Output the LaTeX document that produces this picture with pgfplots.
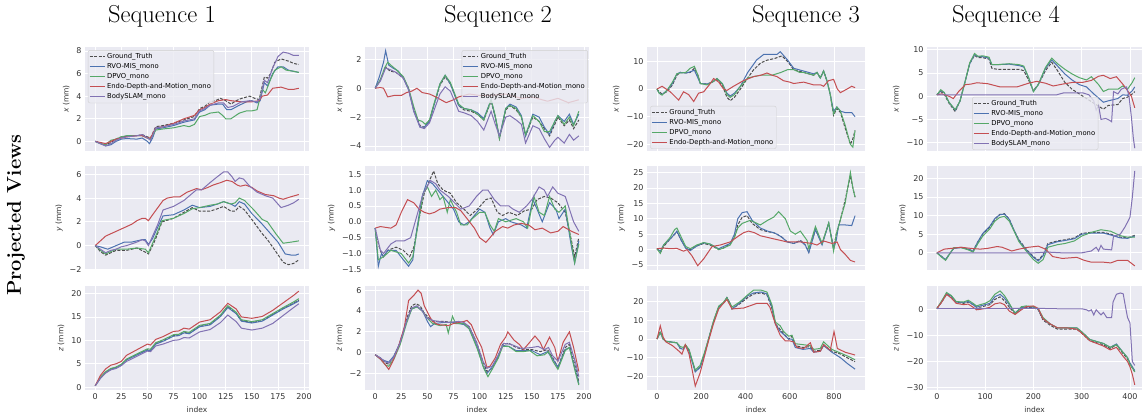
\documentclass[border=0pt]{standalone}
\usepackage{fontspec}
\usepackage{pgfplots}
\pgfplotsset{compat=1.18}
\newfontfamily\sns{DejaVu Sans}
\definecolor{seabg}{HTML}{EAEAF2}
\definecolor{seagt}{HTML}{4D4D4D}
\definecolor{seablue}{HTML}{4C72B0}
\definecolor{seagreen}{HTML}{55A868}
\definecolor{seared}{HTML}{C44E52}
\definecolor{seapurple}{HTML}{8172B3}
\definecolor{tk}{HTML}{333333}
\definecolor{lgedge}{HTML}{D0D0D0}

\pgfplotsset{
  panel/.style={
    scale only axis, anchor=north west,
    axis background/.style={fill=seabg},
    axis line style={draw=none},
    major tick length=0pt, tick style={draw=none},
    grid=major, grid style={white, line width=0.8pt},
    tick label style={font=\sns\fontsize{8}{9}\selectfont, text=tk},
    label style={font=\sns\fontsize{7.5}{9}\selectfont, text=tk},
    legend style={font=\sns\fontsize{6.8}{8}\selectfont, fill=seabg, fill opacity=0.8,
      text opacity=1, draw=lgedge, rounded corners=2pt, inner sep=1pt, row sep=-0.6pt},
    legend cell align=left,
    legend image code/.code={\draw[##1] (0pt,0pt) -- (15pt,0pt);},
    every axis plot/.append style={line width=1pt, no markers},
  },
  gt/.style={seagt, dash pattern=on 3pt off 1.5pt},
  rb/.style={seablue},
  rg/.style={seagreen},
  rr/.style={seared},
  rp/.style={seapurple},
  c12/.style={xmin=-9.75, xmax=204.75, xtick={0,25,...,200}, width=224pt, height=104pt},
  c3/.style={xmin=-45, xmax=940, xtick={0,200,400,600,800}, width=218pt, height=104pt},
  c4/.style={xmin=-20.5, xmax=425, xtick={0,100,200,300,400}, width=215pt, height=104pt},
  top/.style={xticklabels={}},
  bot/.style={xticklabels={0,25,50,75,100,125,150,175,200}, xlabel={index}},
}

\begin{document}
\begin{tikzpicture}
\useasboundingbox (0,0) rectangle (1143pt,415pt);
\node[font=\fontsize{24.5}{26}\selectfont] at (162pt,399pt) {Sequence 1};
\node[font=\fontsize{24.5}{26}\selectfont] at (498pt,399pt) {Sequence 2};
\node[font=\fontsize{24.5}{26}\selectfont] at (806pt,399pt) {Sequence 3};
\node[font=\fontsize{24.5}{26}\selectfont] at (1006pt,399pt) {Sequence 4};
\node[rotate=90, font=\fontsize{20}{22}\selectfont\bfseries] at (16pt,200pt) {Projected Views};

% ---------------- Sequence 1 ----------------
\begin{axis}[panel, c12, top, at={(85pt,368pt)}, ymin=-0.85, ymax=8.35,
  ytick={0,2,4,6,8}, yticklabels={0,2,4,6,8}, ylabel={{\itshape x} (mm)},
  legend style={at={(0.013,0.97)}, anchor=north west}]
\addplot[gt] coordinates {(0,0)(5,-0.1)(10,-0.3)(15,-0.1)(20,0.2)(25,0.4)(30,0.45)(35,0.5)(40,0.5)(45,0.6)(50,0.4)(53,0.3)(58,1.3)(65,1.4)(75,1.6)(85,1.9)(95,2.2)(100,2.9)(105,3.1)(110,3.5)(115,3.6)(120,3.8)(125,3.6)(130,3.3)(135,3.6)(140,3.8)(148,4.0)(153,3.8)(157,3.7)(162,5.7)(165,5.6)(168,6.0)(172,7.0)(178,7.3)(185,7.1)(190,6.9)(195,6.8)};
\addlegendentry{Ground\_Truth}
\addplot[rb] coordinates {(0,0)(5,-0.2)(10,-0.4)(15,-0.3)(20,0)(25,0.2)(30,0.25)(40,0.2)(45,0.3)(50,0.0)(52,-0.2)(55,0.3)(58,1.1)(65,1.2)(75,1.4)(85,1.7)(95,1.9)(100,2.6)(105,2.8)(110,3.2)(118,3.3)(122,3.3)(126,2.8)(130,2.8)(138,3.2)(145,3.5)(150,3.6)(155,3.4)(158,3.6)(162,5.2)(165,4.9)(170,6.0)(175,6.6)(180,6.6)(185,6.3)(190,6.2)(195,6.1)};
\addlegendentry{RVO-MIS\_mono}
\addplot[rg] coordinates {(0,0)(5,-0.2)(10,-0.3)(15,0.1)(20,0.2)(25,0.4)(30,0.5)(40,0.5)(45,0.5)(50,0.3)(53,0.2)(58,1.0)(65,1.1)(75,1.2)(85,1.4)(90,1.3)(95,1.5)(100,2.2)(105,2.3)(110,2.5)(118,2.6)(122,2.3)(125,2.0)(130,2.0)(138,2.5)(145,2.7)(150,2.7)(155,2.8)(160,4.6)(163,4.3)(168,5.5)(172,6.3)(178,6.6)(183,6.3)(190,6.2)(195,6.1)};
\addlegendentry{DPVO\_mono}
\addplot[rr] coordinates {(0,0)(5,-0.1)(10,-0.2)(15,0)(20,0.2)(25,0.3)(30,0.4)(40,0.5)(45,0.5)(50,0.3)(53,0.3)(58,1.2)(65,1.3)(75,1.6)(85,2.0)(95,2.3)(100,2.8)(105,3.0)(110,3.3)(118,3.6)(125,3.7)(130,3.6)(140,3.5)(150,3.5)(157,3.6)(160,4.0)(165,4.1)(170,4.7)(178,4.8)(185,4.6)(190,4.6)(195,4.7)};
\addlegendentry{Endo-Depth-and-Motion\_mono}
\addplot[rp] coordinates {(0,0)(5,-0.2)(10,-0.4)(15,-0.2)(20,0.1)(25,0.3)(30,0.4)(40,0.5)(45,0.6)(50,0.3)(53,0.1)(58,1.2)(65,1.3)(75,1.5)(85,1.8)(95,2.0)(100,2.7)(105,2.9)(110,3.2)(118,3.4)(123,3.4)(127,3.0)(132,3.1)(140,3.5)(148,3.6)(155,3.5)(158,3.8)(162,5.4)(165,5.2)(170,6.5)(175,7.5)(180,7.9)(185,7.8)(190,7.6)(195,7.6)};
\addlegendentry{BodySLAM\_mono}
\end{axis}

\begin{axis}[panel, c12, top, at={(85pt,249pt)}, ymin=-2.05, ymax=6.7,
  ytick={-2,0,2,4,6}, yticklabels={−2,0,2,4,6}, ylabel={{\itshape y} (mm)}]
\addplot[gt] coordinates {(0,0)(5,-0.5)(10,-0.8)(15,-0.6)(20,-0.4)(30,-0.4)(40,-0.2)(47,-0.5)(51,-0.7)(55,0)(58,0.6)(64,2.0)(75,2.3)(85,2.8)(93,3.2)(100,2.9)(110,2.9)(117,3.1)(123,3.3)(130,2.9)(134,2.9)(138,3.3)(143,3.0)(150,2.2)(160,1.0)(165,0.5)(173,-0.5)(180,-1.4)(185,-1.6)(190,-1.5)(195,-1.2)};
\addplot[rb] coordinates {(0,0)(5,-0.1)(12,-0.3)(20,0)(28,0.3)(35,0.3)(45,0.5)(48,0.5)(51,0.1)(55,0.6)(58,1.2)(65,2.5)(75,2.6)(85,3.0)(93,3.4)(100,3.2)(110,3.3)(117,3.5)(123,3.7)(130,3.5)(134,3.3)(138,3.7)(143,3.5)(150,2.7)(160,1.8)(165,1.3)(170,0.8)(175,0.3)(182,-0.7)(188,-0.8)(192,-0.8)(195,-0.7)};
\addplot[rg] coordinates {(0,0)(5,-0.4)(10,-0.7)(15,-0.5)(20,-0.3)(30,-0.3)(40,-0.2)(48,-0.3)(51,-0.6)(55,0.2)(58,0.8)(64,2.1)(75,2.3)(85,2.7)(93,3.1)(100,3.2)(110,3.4)(117,3.5)(123,3.7)(130,3.5)(134,3.6)(138,4.0)(143,3.8)(152,3.0)(160,2.2)(165,2.0)(173,1.0)(180,0.2)(188,0.3)(195,0.4)};
\addplot[rr] coordinates {(0,0)(5,0.4)(10,0.8)(15,1.0)(20,1.2)(25,1.4)(30,1.6)(35,1.8)(40,2.1)(45,2.3)(48,2.3)(51,2.1)(55,2.6)(60,3.2)(65,3.8)(69,4.0)(75,4.1)(81,4.1)(88,4.5)(97,4.8)(102,4.7)(108,4.9)(113,5.1)(120,5.3)(126,5.5)(131,5.4)(136,5.1)(139,5.0)(144,5.1)(150,4.9)(155,4.6)(163,4.3)(171,4.2)(176,4.0)(180,3.9)(187,4.1)(195,4.3)};
\addplot[rp] coordinates {(0,0)(5,-0.3)(10,-0.6)(15,-0.4)(20,-0.3)(25,-0.1)(30,0)(40,0.3)(45,0.5)(48,0.4)(51,0)(55,0.8)(60,1.8)(65,3.0)(75,3.3)(85,3.8)(97,4.7)(102,4.7)(110,5.3)(117,5.8)(123,6.2)(127,6.2)(131,5.8)(134,5.4)(138,5.7)(142,5.6)(148,5.0)(155,4.5)(163,4.2)(170,4.0)(175,3.5)(178,3.2)(185,3.4)(190,3.6)(195,3.9)};
\end{axis}

\begin{axis}[panel, c12, bot, at={(85pt,129pt)}, ymin=-0.6, ymax=21.6,
  ytick={0,5,10,15,20}, yticklabels={0,5,10,15,20}, ylabel={{\itshape z} (mm)}]
\addplot[gt] coordinates {(0,0.3)(5,2)(10,3.2)(15,3.9)(20,4.2)(25,4.8)(30,5.9)(40,7.0)(50,8.0)(53,7.9)(58,9.3)(65,9.9)(75,11.0)(80,11.1)(85,11.7)(90,11.5)(100,13.0)(110,13.4)(120,15.2)(127,17.2)(135,15.8)(140,14.2)(150,13.8)(160,14.2)(170,15.5)(180,16.8)(190,17.9)(195,18.6)};
\addplot[rb] coordinates {(0,0.3)(5,1.9)(10,3.1)(15,3.8)(20,4.1)(25,4.7)(30,5.8)(40,6.9)(50,7.9)(53,7.8)(58,9.2)(65,9.8)(75,10.9)(80,11.0)(85,11.6)(90,11.4)(100,12.9)(110,13.3)(120,15.1)(127,17.0)(135,15.7)(140,14.1)(150,13.7)(160,14.1)(170,15.4)(180,16.7)(190,17.8)(195,18.4)};
\addplot[rg] coordinates {(0,0.3)(5,2.1)(10,3.3)(15,4.0)(20,4.3)(25,4.9)(30,6.0)(40,7.1)(50,8.2)(53,8.1)(58,9.5)(65,10.1)(75,11.2)(80,11.3)(85,11.9)(90,11.7)(100,13.2)(110,13.6)(120,15.4)(127,17.4)(135,16.0)(140,14.4)(150,14.0)(160,14.4)(170,15.7)(180,17.0)(190,18.2)(195,18.9)};
\addplot[rr] coordinates {(0,0.3)(5,2.5)(10,3.9)(15,4.7)(20,5.0)(25,5.5)(30,6.8)(40,8.0)(50,9.2)(53,9.0)(58,10.2)(65,10.8)(75,11.9)(80,12.0)(85,12.6)(90,12.4)(100,13.9)(110,14.4)(120,16.1)(127,17.9)(135,16.7)(140,15.0)(150,14.7)(160,15.1)(170,16.4)(180,18.0)(190,19.6)(195,20.5)};
\addplot[rp] coordinates {(0,0.3)(5,1.9)(10,3.0)(15,3.7)(20,4.0)(25,4.6)(30,5.5)(40,6.6)(50,7.7)(53,7.6)(58,8.8)(65,9.2)(75,10.0)(80,10.1)(85,10.6)(90,10.5)(100,11.8)(110,12.3)(120,13.8)(127,15.4)(135,14.0)(140,12.6)(150,12.2)(160,12.6)(170,13.6)(180,15.3)(190,17.0)(195,17.8)};
\end{axis}

% ---------------- Sequence 2 ----------------
\begin{axis}[panel, c12, top, at={(365pt,368pt)}, ymin=-4.35, ymax=2.86,
  ytick={-4,-2,0,2}, yticklabels={−4,−2,0,2}, ylabel={{\itshape x} (mm)},
  legend style={at={(0.995,0.97)}, anchor=north east}]
\addplot[gt] coordinates {(0,0)(5,0.6)(10,1.5)(14,1.2)(20,1.1)(27,0.7)(32,0)(37,-1.5)(43,-2.6)(47,-2.7)(52,-2.2)(57,-1.0)(62,0.2)(67,0.8)(72,0.3)(80,-1.2)(85,-1.5)(92,-1.6)(98,-1.8)(104,-2.2)(111,-0.9)(115,-2.0)(119,-3.5)(125,-1.5)(129,-1.2)(135,-1.5)(140,-2.0)(144,-3.3)(151,-2.0)(157,-2.3)(162,-2.8)(167,-3.3)(172,-2.5)(175,-2.0)(181,-2.6)(186,-2.2)(190,-2.8)(195,-2.2)};
\addlegendentry{Ground\_Truth}
\addplot[rb] coordinates {(0,0)(4,0.8)(8,1.8)(10,2.6)(13,1.6)(17,1.4)(22,1.2)(27,0.7)(32,-0.1)(37,-1.6)(43,-2.7)(47,-2.7)(52,-2.3)(57,-1.0)(62,0.3)(67,0.9)(72,0.3)(80,-1.2)(85,-1.4)(92,-1.5)(98,-1.7)(104,-2.1)(111,-0.8)(115,-2.0)(119,-3.4)(125,-1.4)(129,-1.1)(135,-1.3)(140,-1.9)(144,-3.3)(151,-1.8)(157,-2.0)(162,-2.7)(167,-3.2)(172,-2.3)(175,-1.9)(181,-2.3)(186,-1.8)(190,-2.5)(195,-1.8)};
\addlegendentry{RVO-MIS\_mono}
\addplot[rg] coordinates {(0,0)(5,0.6)(9,1.4)(12,1.8)(15,1.6)(20,1.3)(27,0.8)(32,0)(37,-1.3)(41,-2.2)(45,-2.3)(48,-2.5)(52,-2.2)(57,-0.9)(62,0.3)(67,0.9)(72,0.4)(80,-1.1)(85,-1.4)(92,-1.5)(98,-1.8)(104,-2.2)(111,-0.8)(115,-1.9)(119,-3.5)(125,-1.4)(129,-1.2)(135,-1.4)(140,-2.0)(144,-3.2)(151,-1.9)(157,-2.3)(162,-3.0)(167,-3.0)(172,-2.3)(175,-1.9)(181,-2.5)(186,-2.0)(190,-2.6)(195,-1.6)};
\addlegendentry{DPVO\_mono}
\addplot[rr] coordinates {(0,0)(5,0.05)(8,0)(12,-0.6)(18,-0.5)(25,-0.5)(30,-0.3)(35,-0.2)(40,0)(45,-0.3)(52,-0.4)(58,-0.6)(63,-0.8)(68,-1.0)(75,-0.8)(80,-0.6)(90,-0.4)(100,-0.5)(110,-0.5)(125,-0.4)(140,-0.7)(150,-0.6)(165,-0.9)(175,-0.7)(185,-1.0)(195,-0.8)};
\addlegendentry{Endo-Depth-and-Motion\_mono}
\addplot[rp] coordinates {(0,0)(5,0.5)(10,1.4)(14,1.3)(20,1.1)(27,0.7)(32,-0.1)(37,-1.6)(43,-2.7)(47,-2.8)(52,-2.4)(57,-1.4)(62,-0.4)(67,0.1)(72,-0.2)(80,-1.6)(85,-1.7)(92,-1.9)(98,-2.3)(104,-2.9)(111,-1.6)(115,-2.5)(119,-3.3)(125,-2.0)(129,-1.9)(135,-2.2)(140,-2.5)(144,-3.8)(151,-2.6)(157,-2.8)(162,-3.5)(167,-4.1)(172,-3.6)(175,-3.4)(181,-3.8)(186,-3.2)(190,-3.6)(195,-3.3)};
\addlegendentry{BodySLAM\_mono}
\end{axis}

\begin{axis}[panel, c12, top, at={(365pt,249pt)}, ymin=-1.52, ymax=1.76,
  ytick={-1.5,-1,-0.5,0,0.5,1,1.5}, yticklabels={−1.5,−1.0,−0.5,0.0,0.5,1.0,1.5}, ylabel={{\itshape y} (mm)}]
\addplot[gt] coordinates {(0,-0.2)(3,-0.7)(6,-1.0)(8,-1.1)(12,-0.9)(20,-0.8)(27,-0.9)(33,-1.1)(37,-0.8)(42,0.1)(47,0.9)(52,1.3)(56,1.6)(60,1.2)(65,1.0)(72,0.9)(78,0.6)(85,0.4)(91,0.2)(98,0.4)(106,0.7)(111,0.75)(117,0.3)(122,0.2)(128,0.3)(136,0.2)(143,0.35)(150,0.4)(155,0.7)(162,0.8)(168,0.75)(175,0.6)(182,0.3)(188,-0.6)(191,-1.1)(195,-0.5)};
\addplot[rb] coordinates {(0,-0.2)(3,-1.4)(6,-1.0)(8,-1.1)(12,-0.9)(20,-0.9)(27,-1.2)(32,-1.4)(36,-1.2)(40,-0.2)(45,0.8)(50,1.3)(55,1.2)(60,1.0)(65,0.8)(70,0.6)(75,0.4)(80,0)(85,-0.1)(90,0)(95,0.2)(100,0.4)(105,0.3)(110,-0.2)(113,-0.4)(118,0)(125,0.1)(130,0)(140,-0.1)(145,-0.2)(151,0.7)(155,0.4)(160,0)(167,0.6)(173,0.4)(176,0.1)(182,0.4)(188,-0.8)(191,-1.3)(195,-0.6)};
\addplot[rg] coordinates {(0,-0.2)(3,-1.2)(8,-1.1)(15,-0.9)(25,-1.0)(32,-1.3)(36,-1.1)(41,-0.1)(46,0.9)(50,1.1)(54,0.8)(58,1.0)(62,0.7)(65,0.8)(69,0.3)(72,0.7)(78,0.3)(82,-0.1)(88,-0.1)(93,0.1)(100,0.3)(105,0.3)(110,-0.1)(114,-0.3)(118,0.1)(125,0.0)(135,0.1)(142,0.0)(146,-0.2)(152,0.8)(157,0.3)(162,0.2)(167,0.8)(172,0.4)(176,0.3)(182,0.5)(188,-0.7)(191,-1.3)(195,-0.7)};
\addplot[rr] coordinates {(0,-0.2)(5,-0.15)(15,-0.2)(20,-0.1)(25,0.3)(31,0.7)(37,0.6)(42,0.4)(47,0.3)(52,0.25)(57,0.3)(62,0.4)(70,0.45)(77,0.45)(82,0.35)(88,0.1)(95,-0.2)(100,-0.5)(106,-0.65)(110,-0.5)(115,-0.3)(122,-0.15)(127,-0.2)(133,-0.1)(140,-0.05)(147,-0.1)(153,-0.25)(160,-0.2)(168,-0.35)(175,-0.3)(180,-0.15)(188,-0.3)(195,-0.4)};
\addplot[rp] coordinates {(0,-0.2)(5,-0.9)(8,-1.0)(15,-0.7)(20,-0.6)(28,-0.6)(34,-0.5)(40,0.2)(46,0.9)(53,1.3)(58,1.2)(62,1.0)(70,0.8)(76,0.6)(82,0.4)(90,0.5)(97,0.8)(103,1.0)(108,1.0)(114,0.7)(120,0.5)(128,0.5)(132,0.4)(138,0.3)(145,0.5)(150,0.7)(157,1.1)(162,1.0)(165,0.8)(170,1.1)(175,0.9)(182,0.8)(190,0.0)(195,-0.3)};
\end{axis}

\begin{axis}[panel, c12, bot, at={(365pt,129pt)}, ymin=-3.58, ymax=6.4,
  ytick={-2,0,2,4,6}, yticklabels={−2,0,2,4,6}, ylabel={{\itshape z} (mm)}]
\addplot[gt] coordinates {(0,-0.2)(5,-0.5)(10,-1.0)(13,-1.1)(17,-0.5)(22,0.5)(27,2.0)(31,3.5)(35,4.5)(39,4.7)(43,4.5)(47,3.8)(52,3.3)(56,3.0)(65,3.0)(75,2.9)(85,2.8)(90,2.5)(97,1.0)(103,-0.8)(107,-1.8)(112,-1.5)(117,-0.5)(122,0.8)(128,0.9)(135,0.5)(142,0.3)(150,0.3)(158,0.1)(165,0.3)(170,-0.5)(175,-1.4)(182,0.5)(186,0.8)(192,-1.5)(195,-2.8)};
\addplot[rb] coordinates {(0,-0.2)(5,-0.6)(10,-0.8)(13,-0.9)(18,-0.3)(24,1.0)(30,3.0)(35,4.2)(40,4.4)(45,4.1)(50,3.0)(53,2.5)(57,2.8)(65,2.9)(75,2.9)(85,2.7)(90,2.3)(98,0.5)(103,-1.2)(107,-2.0)(112,-1.4)(118,-0.3)(122,0.7)(128,0.6)(135,0.2)(142,0.2)(150,0.2)(158,-0.2)(165,0.1)(170,-0.6)(175,-1.4)(182,0.3)(186,0.5)(192,-1.8)(195,-3.0)};
\addplot[rg] coordinates {(0,-0.2)(5,-0.6)(10,-1.2)(13,-1.3)(18,-0.6)(24,0.8)(30,2.8)(35,4.2)(40,4.4)(45,4.0)(50,3.3)(55,2.8)(62,2.6)(68,2.7)(70,1.9)(74,3.5)(77,2.8)(85,2.8)(90,2.3)(98,0.3)(104,-1.5)(108,-2.3)(112,-1.6)(118,-0.5)(122,0.6)(128,0.6)(135,0.1)(142,0.1)(148,0.2)(155,-0.3)(162,-0.2)(166,0.1)(170,-0.8)(175,-1.6)(182,0.2)(186,0.5)(192,-2.0)(195,-3.1)};
\addplot[rr] coordinates {(0,-0.2)(5,-0.6)(10,-1.2)(13,-1.6)(17,-0.8)(22,0.5)(28,2.5)(32,5.0)(37,5.5)(41,6.0)(44,5.7)(47,4.5)(52,3.5)(55,3.0)(60,2.7)(70,2.6)(75,2.8)(85,3.0)(88,3.1)(92,2.7)(97,1.5)(102,0.5)(107,-1.4)(110,-1.3)(115,-0.5)(120,0.8)(125,1.5)(127,2.0)(133,1.2)(138,0.8)(142,0.3)(148,1.0)(153,1.6)(158,1.0)(161,0.3)(167,1.5)(172,0.5)(175,-0.8)(180,1.0)(186,2.0)(190,0.5)(195,-1.8)};
\addplot[rp] coordinates {(0,-0.2)(5,-0.5)(10,-0.9)(13,-1.0)(18,-0.4)(24,1.0)(30,3.0)(35,4.3)(40,4.5)(45,4.0)(50,3.3)(55,3.1)(60,3.0)(70,2.9)(80,3.0)(85,2.9)(90,2.5)(97,1.0)(103,-0.8)(107,-1.5)(112,-1.3)(118,-0.2)(123,0.9)(130,0.8)(140,0.4)(150,0.5)(156,0.6)(162,0.3)(166,0.5)(170,-0.3)(175,-0.8)(182,0.8)(186,1.0)(192,-1.0)(195,-2.3)};
\end{axis}

% ---------------- Sequence 3 ----------------
\begin{axis}[panel, c3, top, at={(647pt,368pt)}, ymin=-22.4, ymax=15.2,
  ytick={-20,-10,0,10}, yticklabels={−20,−10,0,10}, ylabel={{\itshape x} (mm)},
  legend style={at={(0.015,0.02)}, anchor=south west}]
\addplot[gt] coordinates {(0,0)(10,-1)(23,-1.8)(45,-1)(70,1.5)(90,5)(105,6)(130,5.8)(150,6)(169,7.5)(185,5)(196,2)(226,1.8)(250,2.5)(271,3.5)(295,1.5)(316,-3)(331,-4.2)(350,-3)(377,0)(410,4)(437,7)(470,9.5)(500,10.5)(530,11)(565,12)(590,10)(618,7)(663,6)(708,5)(723,6)(738,4)(753,6.5)(768,3)(783,-2)(798,-9.5)(813,-7)(829,-8.5)(850,-14)(874,-20)(885,-18)(895,-15)};
\addlegendentry{Ground\_Truth}
\addplot[rb] coordinates {(0,0)(10,-1.5)(23,-2)(45,-0.5)(70,2)(90,5.5)(105,6)(130,5.8)(150,6.2)(169,6.8)(185,4)(196,2)(226,1.8)(250,2.5)(271,3.8)(295,2)(316,-1.5)(331,-2.5)(350,-1.5)(377,1)(410,6)(437,9)(450,10.5)(482,12.5)(542,12.5)(557,13.5)(590,10.5)(618,7.5)(663,6.5)(708,5.5)(723,6)(738,4)(753,6.5)(768,3)(783,-2)(798,-8)(813,-6.5)(829,-8)(850,-8.5)(880,-8.5)(895,-10)};
\addlegendentry{RVO-MIS\_mono}
\addplot[rg] coordinates {(0,0)(10,-1.5)(23,-2.2)(45,-0.5)(70,2.5)(90,5.5)(105,5.8)(130,6)(150,7.5)(169,8.2)(185,5)(196,2)(226,1.5)(250,2.5)(271,3.8)(295,2)(316,-2)(331,-3)(350,-2)(377,1)(410,4)(437,4.5)(470,5)(520,5)(560,6)(590,7)(618,7)(645,6)(663,6)(708,5)(723,6)(738,4)(753,6.5)(768,3)(783,-2)(798,-9)(813,-6.5)(829,-8)(850,-13)(874,-20)(885,-21)(895,-15)};
\addlegendentry{DPVO\_mono}
\addplot[rr] coordinates {(0,0)(23,1)(60,-1)(98,-4)(120,-1)(143,-2)(166,-4.5)(188,-1.5)(211,-1)(241,2)(256,3.8)(279,2.5)(301,0)(316,-0.5)(346,1)(390,3)(437,4.5)(470,5)(497,5.8)(520,5)(542,4.5)(572,3)(600,2.5)(618,2)(663,2.5)(708,1.5)(740,1.5)(753,1)(775,3)(798,3.5)(815,0)(829,-1.3)(859,0)(880,1)(895,0.5)};
\addlegendentry{Endo-Depth-and-Motion\_mono}
\end{axis}

\begin{axis}[panel, c3, top, at={(647pt,249pt)}, ymin=-6.6, ymax=27.1,
  ytick={-5,0,5,10,15,20,25}, yticklabels={−5,0,5,10,15,20,25}, ylabel={{\itshape y} (mm)}]
\addplot[gt] coordinates {(0,0.3)(15,-1)(30,1)(60,3.5)(80,5)(90,5.8)(110,3)(130,0.5)(151,0)(180,1.2)(211,2)(240,1.5)(260,0.8)(279,0)(300,0.5)(331,2)(350,4)(365,8)(385,10.5)(407,11)(430,8.5)(467,6.5)(500,5.8)(527,5.5)(542,5)(565,4)(588,2.5)(618,2)(648,3)(670,1.5)(686,-0.8)(716,6.5)(746,2)(776,8.5)(798,0.5)(810,5)(830,10)(850,16)(874,24)(885,20)(895,17)};
\addplot[rb] coordinates {(0,0.3)(15,-0.5)(30,1.5)(60,3.5)(80,5)(90,6)(110,3)(130,0.5)(151,-0.3)(180,1.2)(211,2.2)(240,1.8)(260,1)(279,0.3)(300,1)(331,2)(350,5)(365,10)(385,12)(407,12.3)(430,9.5)(467,7)(500,6)(527,5.5)(542,5)(565,4)(588,2.5)(618,2)(648,2.8)(670,1.5)(686,-1)(716,6.5)(746,1.5)(776,8.5)(798,0.3)(810,3)(821,8)(850,8)(880,7.8)(895,11)};
\addplot[rg] coordinates {(0,0.3)(15,-1.2)(30,1.5)(60,4)(80,6.5)(90,7)(110,4)(130,1)(151,0.3)(180,1.5)(211,2.3)(240,1.8)(260,1)(279,0)(300,0.5)(331,1.5)(350,4)(365,7)(385,8.5)(422,9.5)(467,8)(500,9.5)(527,10.5)(550,12.3)(580,10)(603,6)(625,5)(648,6)(678,3)(686,0.3)(716,7.5)(746,2)(776,8.7)(798,-0.5)(810,5)(830,10)(850,15)(874,25)(885,20)(895,17)};
\addplot[rr] coordinates {(0,0.3)(30,0.5)(60,0.3)(90,0.4)(120,-0.5)(136,0)(158,-2)(184,-5.2)(211,-3)(249,1)(286,1.5)(331,2.5)(370,4.5)(392,5.5)(414,6)(440,5.5)(467,4.5)(527,3.5)(588,2.5)(648,2.5)(700,2)(723,1.5)(753,2.8)(791,2)(814,2.5)(829,0)(850,-1.5)(874,-3.5)(895,-4)};
\end{axis}

\begin{axis}[panel, c3, at={(647pt,129pt)}, ymin=-27.1, ymax=28.2,
  xticklabels={0,200,400,600,800}, xlabel={index},
  ytick={-20,-10,0,10,20}, yticklabels={−20,−10,0,10,20}, ylabel={{\itshape z} (mm)}]
\addplot[gt] coordinates {(0,0)(15,4)(28,0)(40,-1.2)(90,-2)(105,-5)(120,-5)(128,-3)(145,-6)(160,-12)(173,-17)(195,-15)(215,-8)(233,0)(255,9)(279,17)(300,19)(316,22)(330,19)(339,16)(377,19)(410,22)(437,24)(470,24.5)(497,23.5)(520,16)(535,8)(557,5)(572,3)(595,0)(610,1.5)(625,-3.5)(660,-4.5)(693,-4)(708,-6.5)(738,-6)(753,-3)(790,-6.5)(830,-8)(860,-10)(895,-12)};
\addplot[rb] coordinates {(0,0)(15,3.5)(28,0)(40,-1.2)(90,-2)(105,-5)(120,-5.5)(128,-3.5)(145,-6.5)(160,-12.5)(173,-17.5)(195,-15)(215,-8)(233,0)(255,9)(279,17)(300,19)(316,22)(330,19)(339,16)(377,19.5)(410,23)(437,24.5)(470,25)(497,24)(520,17)(535,8)(557,4)(572,2.5)(595,0)(610,0)(625,-4.5)(660,-5.5)(693,-5)(708,-7)(738,-6.5)(753,-3.5)(790,-7)(830,-10)(860,-13)(895,-16)};
\addplot[rg] coordinates {(0,0)(15,3.5)(28,0)(40,-1.2)(90,-2)(105,-4)(120,-4.5)(128,-3)(145,-5.5)(160,-11.5)(173,-16.5)(195,-14)(215,-7)(233,0)(255,9.5)(279,17.5)(300,19.5)(316,22)(330,19)(339,17)(377,20)(410,23.5)(437,26)(470,26)(497,25)(520,18)(535,9)(557,7)(572,4)(595,1.5)(610,2)(625,-2.5)(660,-3)(693,-3.5)(708,-5.5)(738,-5)(753,-1.5)(790,-5.5)(830,-7.5)(860,-9)(895,-11)};
\addplot[rr] coordinates {(0,0)(15,7)(28,1)(40,-1.5)(70,-3.5)(100,-6.5)(113,-8)(128,-3)(145,-8)(160,-17)(173,-25)(195,-18)(215,-9)(233,-1)(255,8)(279,16)(300,19)(316,21)(339,16)(392,16.5)(452,19)(497,19)(510,17)(535,8)(557,2)(580,-1)(600,-1)(618,-1.5)(633,-4.5)(663,-5)(693,-2)(708,-7)(738,-6.5)(753,-3)(783,-6)(800,4)(815,-5)(850,-7)(895,-8.5)};
\end{axis}

% ---------------- Sequence 4 ----------------
\begin{axis}[panel, c4, top, at={(927pt,368pt)}, ymin=-11.8, ymax=10.6,
  ytick={-10,-5,0,5,10}, yticklabels={−10,−5,0,5,10}, ylabel={{\itshape x} (mm)},
  legend style={at={(0.21,0.01)}, anchor=south west}]
\addplot[gt] coordinates {(0,0.3)(8,1.0)(15,0.5)(25,-1.5)(38,-3.3)(48,-1)(58,3)(68,7)(78,8.8)(85,8.3)(95,8.3)(108,8.0)(114,6.0)(125,5.8)(150,5.8)(170,5.8)(180,5.5)(190,3.5)(200,1.2)(210,2.5)(225,5.5)(238,7.3)(250,5.5)(265,3.0)(280,1.5)(295,0.5)(310,-0.5)(325,-1.5)(345,-2.8)(355,-2.0)(375,-1.8)(385,-0.5)(395,-0.2)(405,0.5)(410,1.0)};
\addlegendentry{Ground\_Truth}
\addplot[rb] coordinates {(0,0.3)(8,1.2)(15,0.8)(25,-1.3)(38,-3.0)(48,-1)(58,3)(68,7)(78,9.0)(85,8.5)(95,8.5)(108,8.2)(114,6.8)(125,6.8)(150,6.9)(170,6.6)(180,6.3)(190,4.0)(200,1.0)(210,2.5)(225,6.0)(238,7.8)(250,6.5)(265,4.8)(280,3.5)(295,2.5)(310,2.0)(325,0.5)(345,-1.3)(355,-1.0)(375,-0.5)(385,0.3)(395,0.2)(405,1.2)(410,2.0)};
\addlegendentry{RVO-MIS\_mono}
\addplot[rg] coordinates {(0,0.3)(8,1.4)(15,0.8)(25,-1.3)(38,-2.9)(48,-1)(58,3)(68,7.2)(78,9.2)(85,8.6)(95,8.7)(108,8.4)(114,6.8)(125,6.8)(150,7.0)(170,6.8)(180,6.5)(190,4.0)(200,1.0)(210,2.5)(225,6.2)(238,8.2)(250,7.0)(265,5.8)(280,4.8)(295,4.0)(310,3.5)(320,4.2)(335,2.5)(345,1.0)(355,1.5)(375,1.5)(385,2.2)(395,1.5)(405,3.0)(410,4.0)};
\addlegendentry{DPVO\_mono}
\addplot[rr] coordinates {(0,0.3)(10,0.5)(25,0)(34,-0.5)(45,1)(59,2.5)(70,2.6)(83,2.9)(105,2.7)(131,2.0)(166,2.0)(190,2.8)(207,3.2)(225,2.8)(241,2.2)(260,2.6)(283,3.0)(303,3.0)(320,3.4)(335,4.3)(345,4.5)(359,3.8)(372,4.2)(386,2.5)(393,1.5)(403,0)(410,-2.5)};
\addlegendentry{Endo-Depth-and-Motion\_mono}
\addplot[rp] coordinates {(0,0.3)(50,0.3)(100,0.3)(150,0.3)(200,0.3)(248,0.3)(262,0.7)(303,0.7)(315,0.3)(325,-1)(330,-3)(335,-2)(340,-5)(350,-4.8)(358,-5.2)(362,-5.5)(366,1)(375,0.5)(382,1.5)(393,2.0)(398,0)(403,-4.5)(407,-9)(410,-11.2)};
\addlegendentry{BodySLAM\_mono}
\end{axis}

\begin{axis}[panel, c4, top, at={(927pt,249pt)}, ymin=-4.6, ymax=23.3,
  ytick={0,5,10,15,20}, yticklabels={0,5,10,15,20}, ylabel={{\itshape y} (mm)}]
\addplot[gt] coordinates {(0,0)(10,-1)(18,-1.9)(25,-0.5)(35,1.3)(50,1.5)(65,1.0)(75,0.5)(85,3)(95,5)(110,7)(120,9)(130,10.3)(140,10.5)(150,9)(160,6)(170,3.5)(185,1)(200,-1)(210,-2)(220,-0.5)(230,2.5)(250,3.2)(265,3.5)(285,4)(300,5.2)(320,5.5)(345,5.5)(360,5)(380,4.2)(395,4.0)(410,4.7)};
\addplot[rb] coordinates {(0,0)(10,-1)(18,-1.8)(25,-0.5)(35,1.2)(50,1.4)(65,1.0)(75,0.4)(85,3)(95,5.2)(110,7.2)(120,9.2)(130,10.2)(140,10.4)(150,9)(160,6)(170,3.3)(185,0.8)(200,-1.2)(210,-2.2)(220,-0.8)(230,2.2)(250,3.0)(265,3.3)(285,3.8)(300,5.0)(320,5.3)(345,5.3)(360,4.8)(380,4.0)(395,3.9)(410,4.5)};
\addplot[rg] coordinates {(0,0)(10,-1.2)(18,-2)(25,-0.6)(35,1.4)(50,1.4)(65,0.8)(75,0.2)(85,2.5)(95,4.5)(110,6.5)(120,8.5)(130,9.5)(140,9.8)(150,8.5)(160,5.8)(170,3.0)(185,0.5)(200,-1.8)(210,-2.8)(220,-1.8)(230,1.5)(250,2.2)(265,2.5)(285,3.2)(300,4.5)(320,5.5)(340,6.2)(360,5.8)(380,4.6)(395,4.2)(410,4.2)};
\addplot[rr] coordinates {(0,0)(15,1)(30,1.2)(50,1.5)(70,1.2)(90,1.0)(105,1.2)(125,1.7)(135,1.5)(155,0.5)(170,1.0)(190,1.5)(210,1.8)(225,1.0)(240,-1)(260,-1.5)(290,-1.2)(305,-2)(320,-2.5)(345,-2.5)(360,-2.7)(375,-2.0)(395,-2.0)(410,-3.5)};
\addplot[rp] coordinates {(0,0)(100,0)(150,0)(200,0)(230,0.2)(260,0)(300,0)(320,0.5)(330,1.5)(335,0.5)(340,2)(345,1)(362,0.8)(366,4.5)(380,5)(390,7)(400,9.5)(405,15)(410,22)};
\end{axis}

\begin{axis}[panel, c4, at={(927pt,129pt)}, ymin=-31, ymax=9.2,
  xticklabels={0,100,200,300,400}, xlabel={index},
  ytick={-30,-20,-10,0}, yticklabels={−30,−20,−10,0}, ylabel={{\itshape z} (mm)}]
\addplot[gt] coordinates {(0,0.5)(10,3)(20,6)(30,5)(40,3)(55,2.5)(65,3)(75,2)(82,1)(90,1)(100,1.5)(110,2)(120,4)(131,5)(140,3.5)(150,1)(162,-1.5)(175,0.5)(185,1)(200,0.8)(210,0)(220,-4)(235,-6)(250,-7.5)(270,-7.5)(290,-7.5)(300,-9)(317,-12)(345,-13.5)(359,-15)(372,-13.5)(386,-17)(395,-19)(400,-21)(410,-24)};
\addplot[rb] coordinates {(0,0.5)(10,3.2)(20,6.3)(30,5.2)(40,3)(55,2.8)(65,3.2)(75,2)(82,1)(90,1.5)(100,2)(110,2.5)(120,5)(131,6)(140,4.5)(150,2)(162,-1.2)(175,0.8)(185,1.2)(200,1)(210,0.2)(220,-3.5)(235,-5.5)(250,-7)(270,-7)(290,-7)(300,-8.5)(317,-11.5)(345,-13)(359,-14.5)(372,-13.2)(386,-16.5)(395,-18.5)(400,-20.5)(410,-23.5)};
\addplot[rg] coordinates {(0,0.5)(10,3.5)(20,6.7)(30,5.5)(40,3.2)(55,3)(65,3.7)(75,2.5)(82,1.5)(90,2)(100,2.5)(110,3.5)(120,6)(131,7.3)(140,5.5)(150,2.5)(162,-1.5)(175,1.2)(185,1.5)(200,1.2)(210,0.5)(220,-3)(235,-5.5)(250,-7)(270,-7)(290,-7)(300,-8.5)(317,-11.5)(345,-13)(359,-14.5)(372,-13.5)(386,-16.5)(395,-18.5)(400,-21)(410,-24)};
\addplot[rr] coordinates {(0,0.5)(10,3)(20,6)(30,4.5)(40,2.5)(55,2)(65,2.2)(75,1)(82,0)(90,0.2)(100,0.5)(110,1)(120,2.3)(131,2.7)(140,2)(150,-0.5)(162,-1.8)(175,0)(185,1.2)(200,1.5)(210,0.5)(220,-3.5)(235,-5.5)(250,-7)(270,-7)(290,-7.5)(300,-9)(317,-12)(345,-14)(359,-15.5)(372,-14.5)(386,-18)(395,-20)(400,-22)(405,-25)(410,-29)};
\addplot[rp] coordinates {(0,0.5)(50,0.5)(100,0.5)(150,0.5)(200,0.6)(250,0.4)(300,0.4)(310,0)(315,-0.5)(320,0)(325,-2)(330,0)(340,-2)(345,-1)(352,-3)(362,-3)(365,3)(372,6)(380,6.5)(386,6.2)(390,2)(395,-3)(400,-5)(405,-20)(410,-21.5)};
\end{axis}
\end{tikzpicture}
\end{document}
